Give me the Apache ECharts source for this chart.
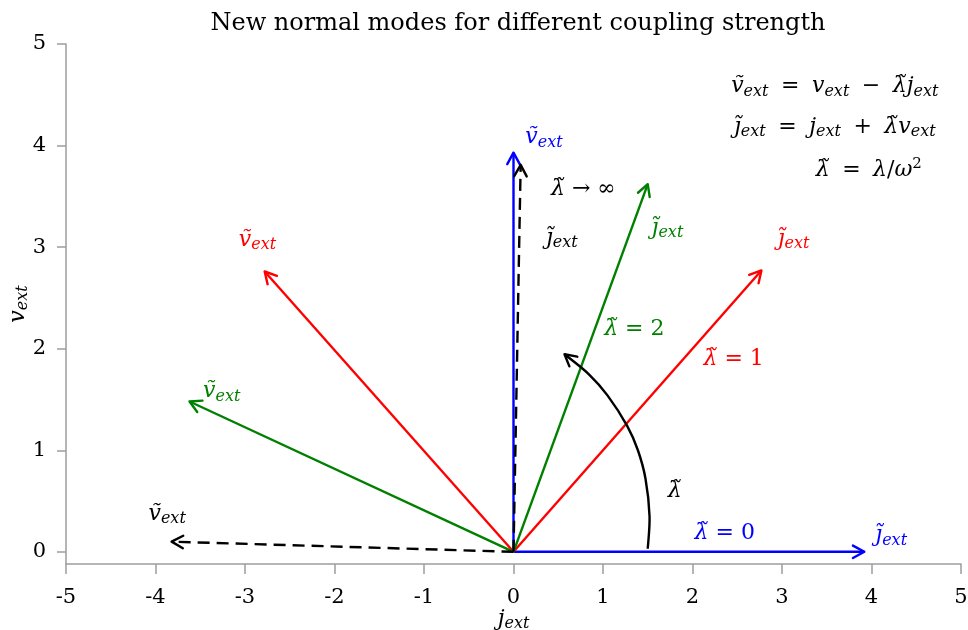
<!DOCTYPE html>
<html>
<head>
<meta charset="utf-8">
<script src="https://cdn.jsdelivr.net/npm/echarts@6/dist/echarts.min.js"></script>
<style>
  html, body { margin: 0; padding: 0; background: #fff; }
  #chart { width: 968px; height: 630px; }
</style>
</head>
<body>
<div id="chart"></div>
<script>
// Axis ticks
const xTicks = [-5, -4, -3, -2, -1, 0, 1, 2, 3, 4, 5];
const yTicks = [0, 1, 2, 3, 4, 5];

// All mode vectors start at the origin
const origin = [0, 0];
// Tips of the rotated basis vectors [j̃_ext, ṽ_ext] for each coupling strength
const modesLambda0 = [[3.92, 0.00], [0.00, 3.93]];
const modesLambda1 = [[2.77, 2.77], [-2.78, 2.76]];
const modesLambda2 = [[1.50, 3.62], [-3.62, 1.48]];
const modesLambdaInf = [[0.08, 3.81], [-3.82, 0.10]];

// Curved arrow showing the rotation as λ̃ grows
const rotationArc = [[1.50, 0.03], [1.52, 0.35], [1.475, 0.72], [1.39, 1.00],
                     [1.27, 1.24], [1.05, 1.54], [0.84, 1.75], [0.57, 1.945]];

const BLUE = '#0000ff', RED = '#ff0000', GREEN = '#008000', BLACK = '#000000';
const SERIF = 'DejaVu Serif';

const T = '\u0303';   // combining tilde
const SP = '\u2005';  // extra space around operators in the displayed equations
const V = '{i|v' + T + '}{s|ext}';
const J = '{i|j' + T + '}{s|ext}';
const L = '{i|λ' + T + '}';
const op = s => '{r|' + SP + ' ' + s + ' ' + SP + '}';
const rel = s => '{r| ' + s + ' }';

// Annotation texts and the data points they are centred on
const annotations = [
  { text: V, color: BLUE, at: [0.34, 4.08] },
  { text: L + rel('→') + '{r|∞}', color: BLACK, at: [0.78, 3.57] },
  { text: J, color: BLACK, at: [0.54, 3.09] },
  { text: V, color: RED, at: [-2.86, 3.07] },
  { text: J, color: GREEN, at: [1.72, 3.19] },
  { text: J, color: RED, at: [3.13, 3.08] },
  { text: L + rel('=') + '{r|2}', color: GREEN, at: [1.35, 2.19] },
  { text: L + rel('=') + '{r|1}', color: RED, at: [2.46, 1.90] },
  { text: V, color: GREEN, at: [-3.26, 1.58] },
  { text: L, color: BLACK, at: [1.80, 0.60] },
  { text: V, color: BLACK, at: [-3.87, 0.37] },
  { text: L + rel('=') + '{r|0}', color: BLUE, at: [2.36, 0.18] },
  { text: J, color: BLUE, at: [4.22, 0.16] },
  { text: V + op('=') + '{i|v}{s|ext}' + op('−') + '{i|λ' + T + 'j}{s|ext}', color: BLACK, at: [3.59, 4.58] },
  { text: J + op('=') + '{i|j}{s|ext}' + op('+') + '{i|λ' + T + 'v}{s|ext}', color: BLACK, at: [3.59, 4.18] },
  { text: L + op('=') + '{i|λ}{r|/}{i|ω}{p|2}', color: BLACK, at: [3.97, 3.76] }
];

function mathRich(color) {
  return {
    i: { fontFamily: SERIF, fontStyle: 'italic', fontSize: 22, lineHeight: 26, color: color },
    s: { fontFamily: SERIF, fontStyle: 'italic', fontSize: 16, lineHeight: 16, color: color, verticalAlign: 'bottom' },
    r: { fontFamily: SERIF, fontSize: 22, lineHeight: 26, color: color },
    p: { fontFamily: SERIF, fontSize: 15, lineHeight: 15, color: color, verticalAlign: 'top' }
  };
}

// Smooth path through pixel points (Catmull-Rom converted to cubic Béziers)
function splinePath(pts) {
  let d = 'M' + pts[0][0] + ',' + pts[0][1];
  for (let k = 0; k < pts.length - 1; k++) {
    const p0 = pts[Math.max(k - 1, 0)], p1 = pts[k], p2 = pts[k + 1], p3 = pts[Math.min(k + 2, pts.length - 1)];
    const c1 = [p1[0] + (p2[0] - p0[0]) / 6, p1[1] + (p2[1] - p0[1]) / 6];
    const c2 = [p2[0] - (p3[0] - p1[0]) / 6, p2[1] - (p3[1] - p1[1]) / 6];
    d += ' C' + c1[0] + ',' + c1[1] + ' ' + c2[0] + ',' + c2[1] + ' ' + p2[0] + ',' + p2[1];
  }
  return d;
}

// Shaft plus open "->" style head, drawn in pixel space
function arrowShape(points, color, dash) {
  const n = points.length;
  const tip = points[n - 1], prev = points[n - 2];
  const ang = Math.atan2(tip[1] - prev[1], tip[0] - prev[0]);
  const len = 13, spread = 0.5;
  const b1 = [tip[0] - len * Math.cos(ang - spread), tip[1] - len * Math.sin(ang - spread)];
  const b2 = [tip[0] - len * Math.cos(ang + spread), tip[1] - len * Math.sin(ang + spread)];
  const shaftStyle = { stroke: color, lineWidth: 2.4, fill: null, lineDash: dash || null };
  const shaft = n > 2
    ? { type: 'path', shape: { pathData: splinePath(points) }, style: shaftStyle }
    : { type: 'polyline', shape: { points: points }, style: shaftStyle };
  return {
    type: 'group',
    children: [
      shaft,
      {
        type: 'polyline',
        shape: { points: [b1, tip, b2] },
        style: { stroke: color, lineWidth: 2.4, fill: null, lineJoin: 'round', lineCap: 'round' }
      }
    ]
  };
}

function arrowSeries(name, tips, color, dash) {
  return {
    name: name,
    type: 'custom',
    coordinateSystem: 'cartesian2d',
    silent: true,
    encode: { x: [0, 2], y: [1, 3] },
    data: tips.map(t => [origin[0], origin[1], t[0], t[1]]),
    renderItem: function (params, api) {
      const p0 = api.coord([api.value(0), api.value(1)]);
      const p1 = api.coord([api.value(2), api.value(3)]);
      return arrowShape([p0, p1], color, dash);
    },
    z: color === BLACK ? 3 : 2
  };
}

const arcSeries = {
  name: 'rotation',
  type: 'custom',
  coordinateSystem: 'cartesian2d',
  silent: true,
  encode: { x: 0, y: 1 },
  data: rotationArc,
  renderItem: function (params, api) {
    if (params.dataIndex !== 0) return { type: 'group', children: [] };
    const pts = rotationArc.map(p => api.coord(p));
    return arrowShape(pts, BLACK, null);
  },
  z: 4
};

const labelSeries = {
  name: 'labels',
  type: 'scatter',
  silent: true,
  symbolSize: 1,
  itemStyle: { color: 'transparent', opacity: 1 },
  z: 5,
  data: annotations.map(a => ({
    value: a.at,
    label: {
      show: true,
      position: 'inside',
      formatter: a.text,
      color: a.color,
      opacity: 1,
      textBorderWidth: 0,
      rich: mathRich(a.color)
    }
  }))
};

const axisGray = '#9d9d9d';

const option = {
  animation: false,
  backgroundColor: '#ffffff',
  title: {
    text: 'New normal modes for different coupling strength',
    left: 513,
    textAlign: 'center',
    top: 7,
    textStyle: { fontFamily: SERIF, fontWeight: 'normal', fontSize: 24, color: '#000' }
  },
  grid: { left: 66, right: 7, top: 44, bottom: 66, containLabel: false, outerBoundsMode: 'none' },
  xAxis: {
    type: 'value',
    min: -5,
    max: 5,
    interval: 1,
    name: '{i|j}{s|ext}',
    nameLocation: 'middle',
    nameGap: 42,
    nameMoveOverlap: false,
    nameTextStyle: { rich: mathRich(BLACK) },
    splitLine: { show: false },
    axisLine: { onZero: false, lineStyle: { color: axisGray, width: 1.5 } },
    axisTick: { length: 10, lineStyle: { color: axisGray, width: 1.5 } },
    axisLabel: {
      margin: 23,
      fontFamily: SERIF, fontSize: 21, color: '#000',
      formatter: v => (xTicks.indexOf(v) >= 0 ? String(v) : '')
    }
  },
  yAxis: {
    type: 'value',
    min: -0.12,
    max: 5,
    name: '{i|v}{s|ext}',
    nameLocation: 'middle',
    nameGap: 35,
    nameRotate: 90,
    nameMoveOverlap: false,
    nameTextStyle: { rich: mathRich(BLACK) },
    splitLine: { show: false },
    axisLine: { onZero: false, lineStyle: { color: axisGray, width: 1.5 } },
    axisTick: { length: 9, customValues: yTicks, lineStyle: { color: axisGray, width: 1.5 } },
    axisLabel: {
      margin: 20,
      customValues: yTicks,
      fontFamily: SERIF, fontSize: 21, color: '#000'
    }
  },
  series: [
    arrowSeries('lambda0', modesLambda0, BLUE),
    arrowSeries('lambda1', modesLambda1, RED),
    arrowSeries('lambda2', modesLambda2, GREEN),
    arrowSeries('lambdaInf', modesLambdaInf, BLACK, [12, 7]),
    arcSeries,
    labelSeries
  ]
};

const chart = echarts.init(document.getElementById('chart'), null, { renderer: 'canvas' });
chart.setOption(option);
</script>
</body>
</html>
